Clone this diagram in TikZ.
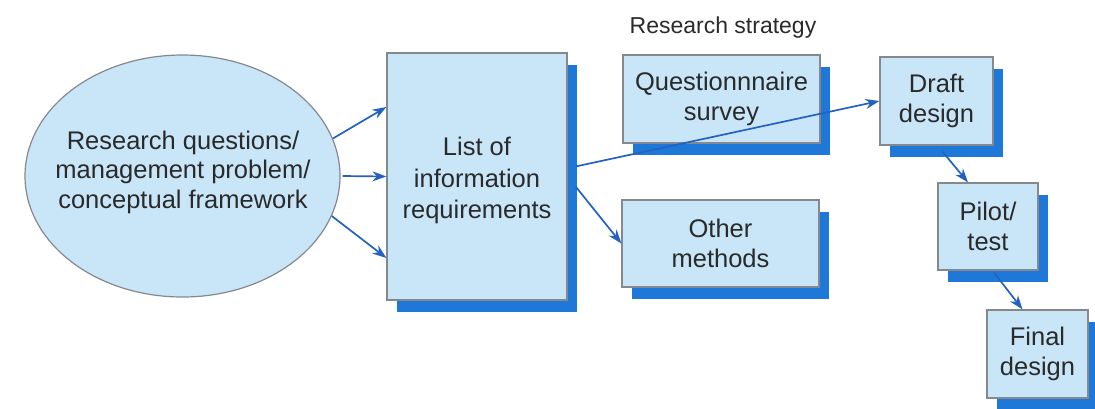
\documentclass[tikz,border=0pt]{standalone}
\usepackage{fontspec}
\setmainfont{Liberation Sans}
\usetikzlibrary{shapes.geometric,shadows,calc,arrows.meta}

\definecolor{boxfill}{HTML}{C8E6F8}
\definecolor{shadowblue}{HTML}{1E78D7}
\definecolor{edgegray}{HTML}{85898E}
\definecolor{arrowblue}{HTML}{2462C2}
\definecolor{textgray}{HTML}{2A2A2A}

\tikzset{
  label text/.style={align=center, text=textgray, inner sep=0pt,
    font=\fontsize{25.5}{29.5}\selectfont},
  stepbox/.style={rectangle, draw=edgegray, line width=1.2pt, fill=boxfill,
    label text,
    drop shadow={shadow xshift=10pt, shadow yshift=-12pt,
      fill=shadowblue, opacity=1}},
  bubble/.style={ellipse, draw=edgegray, line width=1.2pt, fill=boxfill,
    inner sep=0pt},
  flow/.style={draw=arrowblue, line width=1.7pt,
    -{Stealth[length=14pt,width=10pt]}},
  caption/.style={text=textgray, font=\fontsize{23}{28}\selectfont}
}

\begin{document}
\begin{tikzpicture}[x=1pt,y=-1pt]
  \useasboundingbox (0,0) rectangle (1095,408);
  \fill[white] (0,0) rectangle (1095,408);

  % starting point of the study
  \node[bubble, minimum width=315pt, minimum height=242pt] (rq) at (182.5,176) {};
  \node[label text] (rqtext) at (183,172)
    {Research questions/\\management problem/\\conceptual framework};

  % information needs
  \node[stepbox, minimum width=180pt, minimum height=247pt] (list) at (477,176.5) {};
  \node[label text, font=\fontsize{25.5}{31.5}\selectfont] (listtext)
    at ($(list.center)+(0,4)$) {List of\\information\\requirements};

  % research strategy options
  \node[caption] (strategy) at (723,28) {Research strategy};
  \node[stepbox, minimum width=197pt, minimum height=88pt] (quest) at (721.5,99)
    {Questionnnaire\\survey};
  \node[stepbox, minimum width=197pt, minimum height=87pt] (other) at (720.5,243.5)
    {Other\\methods};

  % questionnaire development stages
  \node[stepbox, minimum width=113pt, minimum height=88pt] (draft) at (936.5,101)
    {Draft\\design};
  \node[stepbox, minimum width=100pt, minimum height=87pt] (pilot) at (988,226.5)
    {Pilot/\\test};
  \node[stepbox, minimum width=101pt, minimum height=88pt] (final) at (1037.5,354)
    {Final\\design};

  % connectors
  \draw[flow] (rq.14.5) -- ($(list.west)+(0,-69.5)$);
  \draw[flow] ($(rq.east)+(2,0)$) -- (list.west);
  \draw[flow] (rq.-15) -- ($(list.west)+(0,81.5)$);

  \draw[flow] ($(list.east)+(8,-10)$) -- (draft.west);
  \draw[flow] ($(list.east)+(8,10)$) -- (other.west);

  \draw[flow] ($(draft.south)+(6,6)$) -- ($(pilot.north)+(-20,0)$);
  \draw[flow] ($(pilot.south)+(6,2)$) -- ($(final.north)+(-15,0)$);
\end{tikzpicture}
\end{document}
